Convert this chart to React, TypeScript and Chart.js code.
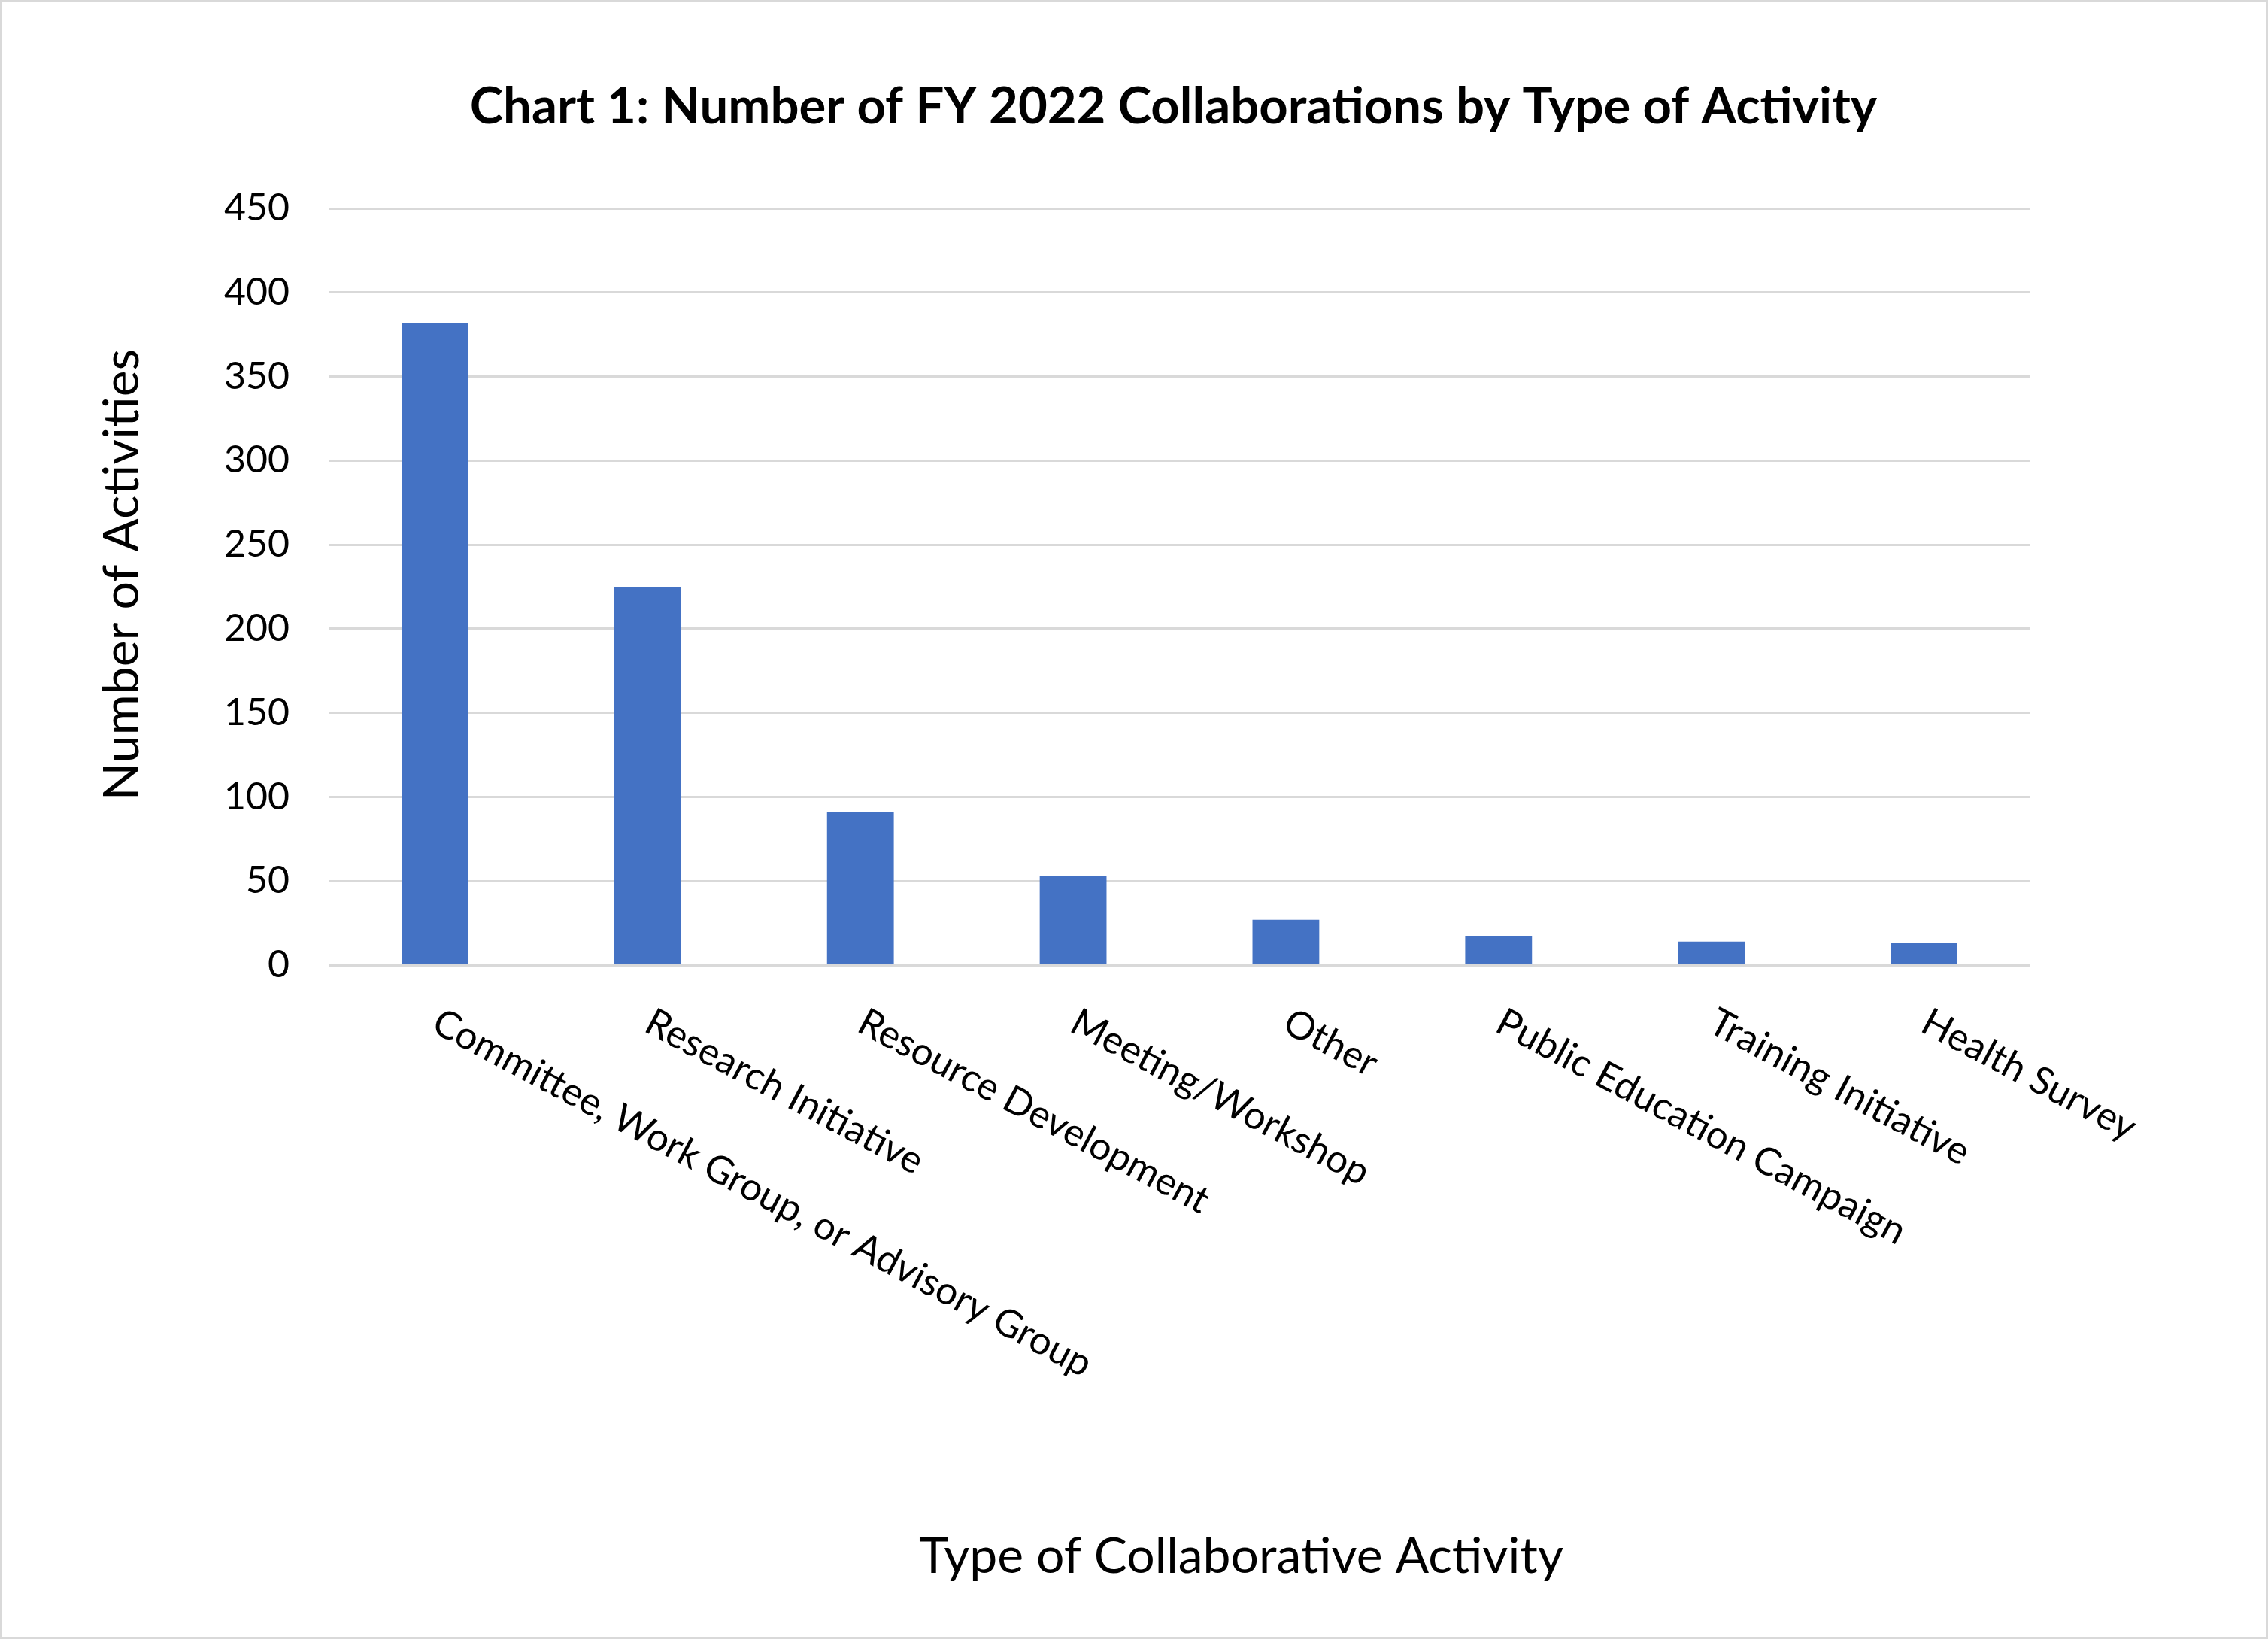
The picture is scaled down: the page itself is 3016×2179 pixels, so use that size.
import { useEffect, useRef } from 'react';
import { Chart } from 'chart.js/auto';

const categories = [
  'Committee, Work Group, or Advisory Group',
  'Research Initiative',
  'Resource Development',
  'Meeting/Workshop',
  'Other',
  'Public Education Campaign',
  'Training Initiative',
  'Health Survey',
];
const activityCounts = [382, 225, 91, 53, 27, 17, 14, 13];
const yMin = 0;
const yMax = 450;
const yStep = 50;

const chartTitle = 'Chart 1: Number of FY 2022 Collaborations by Type of Activity';
const xAxisTitle = 'Type of Collaborative Activity';
const yAxisTitle = 'Number of Activities';

const FONT = 'Lato, "Open Sans", sans-serif';
const GRID = '#d9d9d9';
const BAR = '#4472c4';
const W = 3016;
const H = 2179;
const LABEL_ANGLE = (28 * Math.PI) / 180;

// titles + slanted category labels, drawn Excel-style
const textPlugin = {
  id: 'excelText',
  beforeDraw(chart: Chart) {
    const { ctx } = chart;
    ctx.save();
    ctx.fillStyle = '#fff';
    ctx.fillRect(0, 0, W, H);
    ctx.strokeStyle = GRID;
    ctx.lineWidth = 3;
    ctx.strokeRect(1.5, 1.5, W - 3, H - 3);
    ctx.restore();
  },
  afterDraw(chart: Chart) {
    const { ctx, chartArea, scales } = chart;
    const xs = scales.x;
    const midX = (chartArea.left + chartArea.right) / 2;
    const midY = (chartArea.top + chartArea.bottom) / 2;
    ctx.save();
    ctx.fillStyle = '#000';
    ctx.textBaseline = 'alphabetic';

    ctx.font = `bold 67px ${FONT}`;
    ctx.textAlign = 'center';
    ctx.fillText(chartTitle, midX - 8, chartArea.top - 113);

    ctx.font = `51px ${FONT}`;
    ctx.textAlign = 'left';
    categories.forEach((label, i) => {
      const px = xs.getPixelForTick(i);
      ctx.save();
      ctx.translate(px - 7, chartArea.bottom + 87);
      ctx.rotate(LABEL_ANGLE);
      ctx.fillText(label, 0, 0);
      ctx.restore();
    });

    ctx.font = `66px ${FONT}`;
    ctx.textAlign = 'center';
    ctx.fillText(xAxisTitle, midX + 82, chartArea.bottom + 808);

    ctx.save();
    ctx.translate(184, midY - 16);
    ctx.rotate(-Math.PI / 2);
    ctx.fillText(yAxisTitle, 0, 0);
    ctx.restore();

    ctx.restore();
  },
};

function CollabChart() {
  const canvasRef = useRef<HTMLCanvasElement>(null);
  const chartRef = useRef<Chart | null>(null);

  useEffect(() => {
    if (!canvasRef.current) return;
    chartRef.current?.destroy();
    chartRef.current = new Chart(canvasRef.current, {
      type: 'bar',
      data: {
        labels: categories,
        datasets: [{ data: activityCounts, backgroundColor: BAR, borderWidth: 0, barPercentage: 0.314, categoryPercentage: 1 }],
      },
      options: {
        responsive: false,
        animation: false,
        devicePixelRatio: 1,
        layout: { padding: { left: 0, top: 277, right: W - 2700, bottom: H - 1283 } },
        plugins: { legend: { display: false }, title: { display: false }, tooltip: { enabled: false } },
        scales: {
          x: {
            grid: { display: false },
            border: { display: false },
            ticks: { display: false },
            afterFit: (s: any) => { s.height = 0; },
          },
          y: {
            min: yMin,
            max: yMax,
            ticks: { stepSize: yStep, color: '#000', padding: 52, font: { family: FONT, size: 50 } },
            grid: { color: GRID, lineWidth: 3, drawTicks: false },
            border: { display: false },
            afterFit: (s: any) => { s.width = 437; },
          },
        },
      },
      plugins: [textPlugin],
    });
    return () => chartRef.current?.destroy();
  }, []);

  return <canvas ref={canvasRef} width={W} height={H} style={{ display: 'block', width: W, height: H }} />;
}

export default function App() {
  useEffect(() => {
    document.body.style.margin = '0';
  }, []);
  return <CollabChart />;
}
